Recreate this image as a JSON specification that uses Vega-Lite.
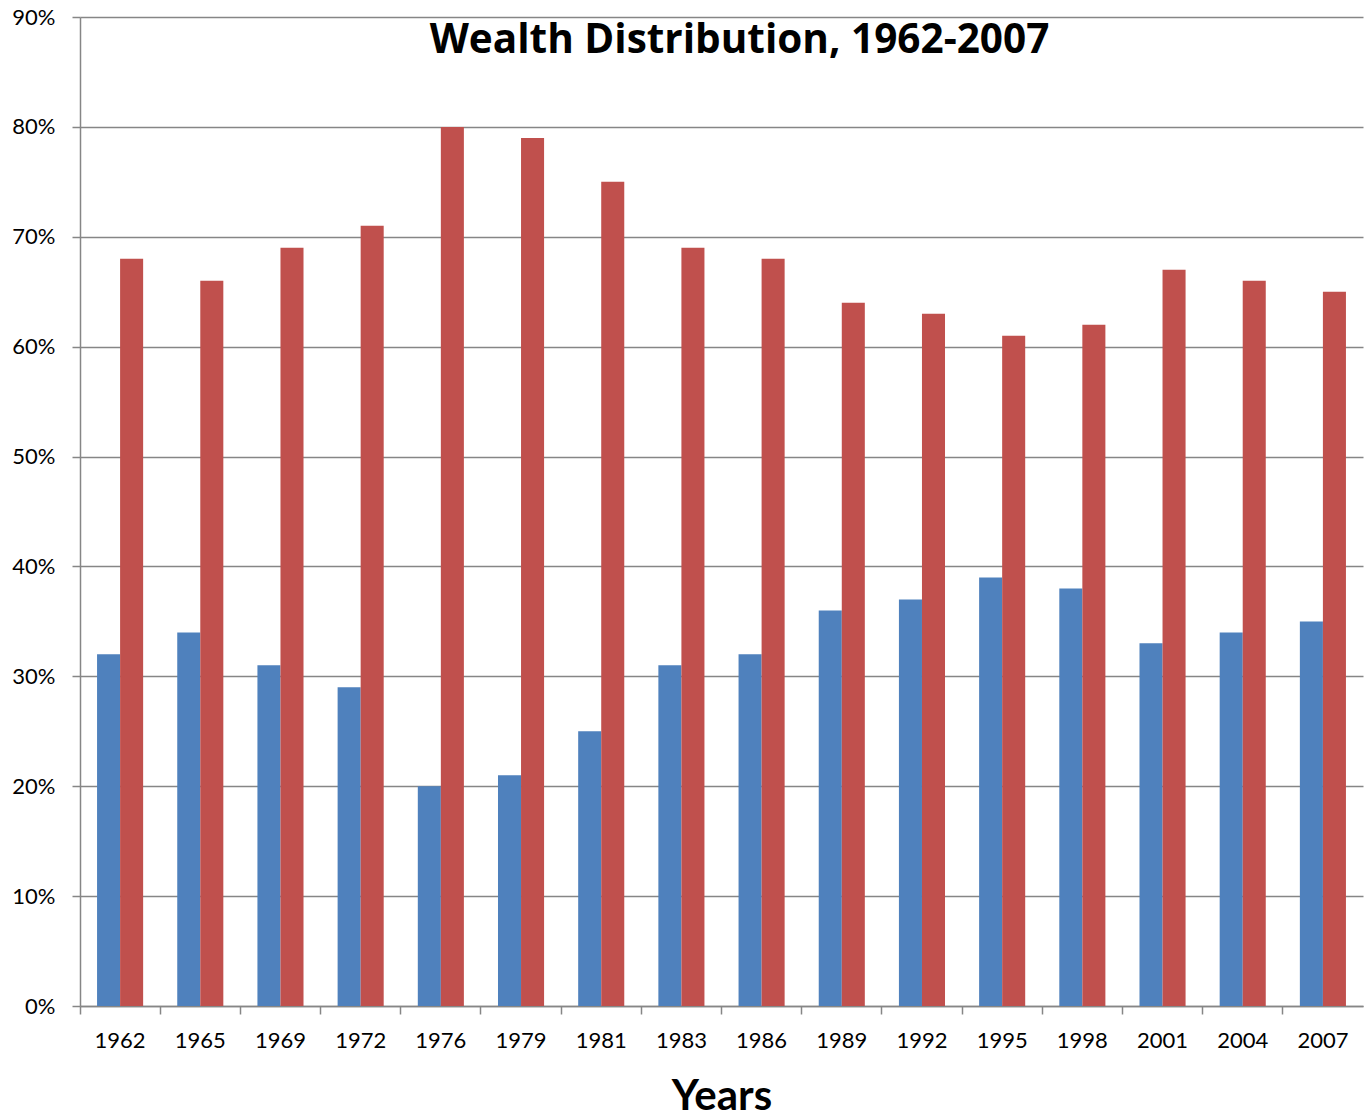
{
  "$schema": "https://vega.github.io/schema/vega-lite/v6.json",
  "autosize": {"type": "none"},
  "padding": {"left": 80, "top": 17, "right": 1, "bottom": 112},
  "width": 1283,
  "height": 989,
  "background": "white",
  "title": {"text": "Wealth Distribution, 1962-2007", "fontSize": 40.5, "fontWeight": "bold", "font": "Open Sans", "color": "black", "anchor": "middle", "offset": -55, "baseline": "top", "dx": 18},
  "config": {"view": {"stroke": null}, "font": "Lato"},
  "data": {"values": [
    {"year": "1962", "s": "a", "v": 0.32}, {"year": "1962", "s": "b", "v": 0.68},
    {"year": "1965", "s": "a", "v": 0.34}, {"year": "1965", "s": "b", "v": 0.66},
    {"year": "1969", "s": "a", "v": 0.31}, {"year": "1969", "s": "b", "v": 0.69},
    {"year": "1972", "s": "a", "v": 0.29}, {"year": "1972", "s": "b", "v": 0.71},
    {"year": "1976", "s": "a", "v": 0.20}, {"year": "1976", "s": "b", "v": 0.80},
    {"year": "1979", "s": "a", "v": 0.21}, {"year": "1979", "s": "b", "v": 0.79},
    {"year": "1981", "s": "a", "v": 0.25}, {"year": "1981", "s": "b", "v": 0.75},
    {"year": "1983", "s": "a", "v": 0.31}, {"year": "1983", "s": "b", "v": 0.69},
    {"year": "1986", "s": "a", "v": 0.32}, {"year": "1986", "s": "b", "v": 0.68},
    {"year": "1989", "s": "a", "v": 0.36}, {"year": "1989", "s": "b", "v": 0.64},
    {"year": "1992", "s": "a", "v": 0.37}, {"year": "1992", "s": "b", "v": 0.63},
    {"year": "1995", "s": "a", "v": 0.39}, {"year": "1995", "s": "b", "v": 0.61},
    {"year": "1998", "s": "a", "v": 0.38}, {"year": "1998", "s": "b", "v": 0.62},
    {"year": "2001", "s": "a", "v": 0.33}, {"year": "2001", "s": "b", "v": 0.67},
    {"year": "2004", "s": "a", "v": 0.34}, {"year": "2004", "s": "b", "v": 0.66},
    {"year": "2007", "s": "a", "v": 0.35}, {"year": "2007", "s": "b", "v": 0.65}
  ]},
  "mark": {"type": "bar"},
  "encoding": {
    "x": {"field": "year", "type": "nominal", "sort": null,
      "scale": {"paddingInner": 0, "paddingOuter": 0},
      "axis": {"title": "Years", "titleFontSize": 42, "titleFontWeight": "bold", "titleColor": "black", "titlePadding": 25,
        "labelAngle": 0, "labelFontSize": 22, "labelColor": "black", "labelPadding": 16,
        "bandPosition": 0, "labelOffset": 0, "tickSize": 8, "tickColor": "#868686", "domainColor": "#868686", "domainWidth": 1.5, "tickWidth": 1.5, "grid": false}},
    "xOffset": {"field": "s", "type": "nominal", "scale": {"paddingInner": 0, "paddingOuter": 0.74}},
    "y": {"field": "v", "type": "quantitative",
      "scale": {"domain": [0, 0.9], "nice": false},
      "axis": {"title": null, "format": ".0%", "values": [0, 0.1, 0.2, 0.3, 0.4, 0.5, 0.6, 0.7, 0.8, 0.9],
        "labelFontSize": 22, "labelColor": "black", "labelPadding": 17, "tickSize": 8, "tickColor": "#868686", "tickWidth": 1.5,
        "domainColor": "#868686", "domainWidth": 1.5, "grid": true, "gridColor": "#868686", "gridWidth": 1.5}},
    "color": {"field": "s", "type": "nominal", "legend": null,
      "scale": {"domain": ["a", "b"], "range": ["#4F81BD", "#C0504D"]}}
  }
}
